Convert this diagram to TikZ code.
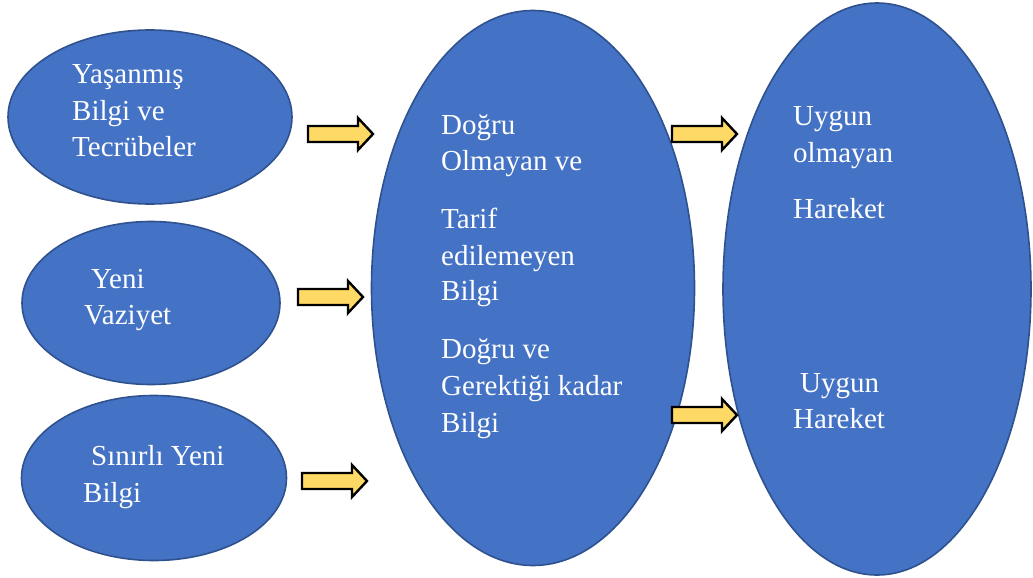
\documentclass[tikz,border=0pt]{standalone}
\usepackage{fontspec}
\setmainfont{Liberation Serif}
\usetikzlibrary{shapes.geometric}
\definecolor{blobfill}{HTML}{4472C4}
\definecolor{blobedge}{HTML}{2F528F}
\definecolor{arrowfill}{HTML}{FFD966}
\tikzset{
  blob/.style={ellipse, draw=blobedge, line width=1.6pt, fill=blobfill, inner sep=0pt},
  label/.style={anchor=base west, text=white, inner sep=0pt,
    font=\fontsize{29}{34}\selectfont},
  blockarrow/.style={draw=black, line width=2.4pt, fill=arrowfill, line join=miter}
}
% block arrow whose left end is centred on (#1,#2)
\newcommand\yellowarrow[2]{%
  \draw[blockarrow, shift={(#1,#2)}]
    (0,-8) -- (50,-8) -- (50,-16) -- (65,0) -- (50,16) -- (50,8) -- (0,8) -- cycle;}
\begin{document}
\begin{tikzpicture}[x=1pt,y=-1pt]
\useasboundingbox (0,0) rectangle (1033,578);

% source ellipses
\node[blob, minimum width=284pt, minimum height=174pt] (exp) at (150,117) {};
\node[blob, minimum width=258pt, minimum height=163pt] (new) at (151,303) {};
\node[blob, minimum width=265pt, minimum height=165pt] (lim) at (154,478) {};
% knowledge ellipse
\node[blob, minimum width=323pt, minimum height=555pt] (know) at (533,288) {};
% action ellipse
\node[blob, minimum width=308pt, minimum height=572pt] (act) at (877,289) {};

% labels
\node[label] (t1) at (72,83) {Yaşanmış};
\node[label] (t2) at (72,120) {Bilgi ve};
\node[label] (t3) at (72,156) {Tecrübeler};

\node[label] (t4) at (91,288) {Yeni};
\node[label] (t5) at (84,324) {Vaziyet};

\node[label] (t6) at (91,465) {Sınırlı Yeni};
\node[label] (t7) at (83,502) {Bilgi};

\node[label] (k1) at (441,134) {Doğru};
\node[label] (k2) at (441,170) {Olmayan ve};
\node[label] (k3) at (441,228) {Tarif};
\node[label] (k4) at (441,265) {edilemeyen};
\node[label] (k5) at (441,300) {Bilgi};
\node[label] (k6) at (441,358) {Doğru ve};
\node[label] (k7) at (441,395) {Gerektiği kadar};
\node[label] (k8) at (441,432) {Bilgi};

\node[label] (a1) at (793,125) {Uygun};
\node[label] (a2) at (793,162) {olmayan};
\node[label] (a3) at (793,218) {Hareket};
\node[label] (a4) at (800,392) {Uygun};
\node[label] (a5) at (793,428) {Hareket};

% block arrows
\yellowarrow{308}{134}
\yellowarrow{298}{297}
\yellowarrow{302}{481}
\yellowarrow{672}{134}
\yellowarrow{672}{415}
\end{tikzpicture}
\end{document}
